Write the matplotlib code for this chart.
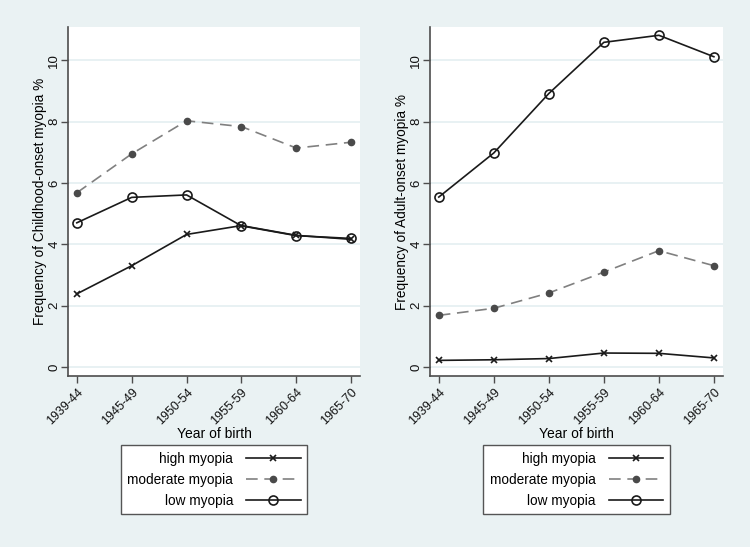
import numpy as np
import matplotlib
matplotlib.use("Agg")
import matplotlib.pyplot as plt

plt.rcParams['font.family'] = ['Liberation Sans', 'DejaVu Sans']

cohorts = ['1939-44', '1945-49', '1950-54', '1955-59', '1960-64', '1965-70']
yticks = [0, 2, 4, 6, 8, 10]

child_high = [2.38, 3.30, 4.32, 4.61, 4.29, 4.16]
child_moderate = [5.68, 6.95, 8.03, 7.84, 7.14, 7.33]
child_low = [4.70, 5.53, 5.61, 4.60, 4.28, 4.19]

adult_high = [0.21, 0.23, 0.27, 0.45, 0.44, 0.29]
adult_moderate = [1.68, 1.91, 2.41, 3.09, 3.79, 3.30]
adult_low = [5.54, 6.98, 8.92, 10.59, 10.82, 10.12]

bg = '#eaf2f3'
x = np.arange(len(cohorts))

fig = plt.figure(figsize=(7.5, 5.47), dpi=100, facecolor=bg)
ax1 = fig.add_axes([0.0907, 0.3126, 0.3893, 0.638])
ax2 = fig.add_axes([0.5733, 0.3126, 0.3903, 0.638])


def draw_panel(ax, high, moderate, low, ylabel):
    ax.set_facecolor('white')
    ax.plot(x, high, color='#1a1a1a', lw=1.2, marker='x', ms=4, mew=1.2,
            label='high myopia')
    ax.plot(x, moderate, color='#808080', lw=1.2, ls=(0, (7, 4)), marker='o',
            ms=4.5, mfc='#4a4a4a', mec='#4a4a4a', label='moderate myopia')
    ax.plot(x, low, color='#1a1a1a', lw=1.2, marker='o', ms=6.5, mfc='none',
            mec='#1a1a1a', mew=1.2, label='low myopia')
    ax.set_xlim(-0.16, 5.16)
    ax.set_ylim(-0.3, 11.09)
    ax.set_yticks(yticks)
    ax.set_yticklabels([str(t) for t in yticks], rotation=90, va='center')
    ax.set_xticks(x)
    ax.set_xticklabels(cohorts, rotation=45, ha='right', rotation_mode='anchor')
    ax.grid(axis='y', color='#e4eff1', lw=1.2)
    ax.set_axisbelow(True)
    for s in ['top', 'right']:
        ax.spines[s].set_visible(False)
    for s in ['left', 'bottom']:
        ax.spines[s].set_color('#4d4d4d')
        ax.spines[s].set_linewidth(1.2)
    ax.tick_params(direction='out', length=5, width=1, color='#4d4d4d',
                   labelsize=9, labelcolor='#111111')
    ax.tick_params(axis='x', pad=2.5)
    ax.tick_params(axis='y', pad=0.5, labelsize=9.5)
    ax.set_ylabel(ylabel, fontsize=9.8, labelpad=1)
    ax.set_xlabel('Year of birth', fontsize=10, labelpad=0)
    leg = ax.legend(loc='upper center', bbox_to_anchor=(0.5, -0.198),
                    borderaxespad=0, markerfirst=False, fancybox=False,
                    framealpha=1, edgecolor='#555555', fontsize=9.8,
                    handlelength=4.0, labelspacing=0.5, borderpad=0.5,
                    handletextpad=0.95)
    leg.get_frame().set_linewidth(1.0)


draw_panel(ax1, child_high, child_moderate, child_low,
           'Frequency of Childhood-onset myopia %')
draw_panel(ax2, adult_high, adult_moderate, adult_low,
           'Frequency of Adult-onset myopia %')

fig.savefig('out.png', dpi=100, facecolor=bg)
